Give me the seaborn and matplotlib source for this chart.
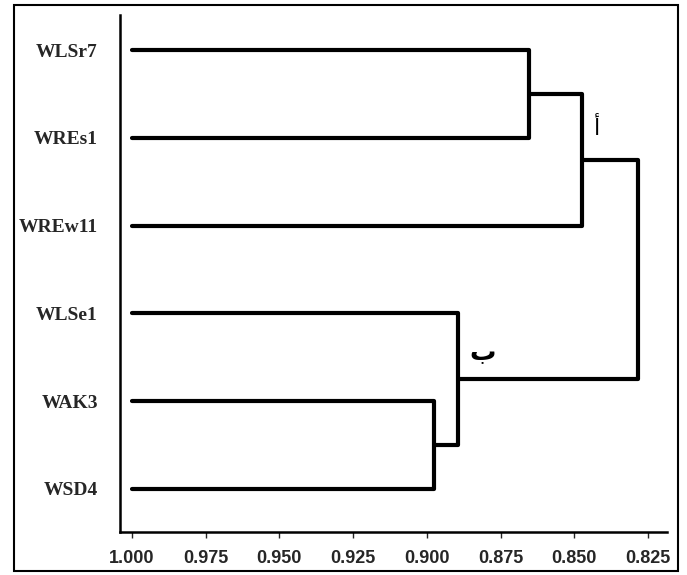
import matplotlib
matplotlib.use("Agg")
import matplotlib.pyplot as plt
import seaborn as sns
import pandas as pd
import numpy as np
from matplotlib.patches import Rectangle

# ---- data ----
leaves = ["WLSr7", "WREs1", "WREw11", "WLSe1", "WAK3", "WSD4"]
leaf_start = 1.0
# merges: (left node, right node, similarity level)
merge_left = ["WLSr7", "c1", "WAK3", "WLSe1", "cA"]
merge_right = ["WREs1", "WREw11", "WSD4", "c3", "cB"]
merge_level = [0.8655, 0.8475, 0.8975, 0.8895, 0.8285]
merge_name = ["c1", "cA", "c3", "cB", "root"]
cluster_labels = ["أ", "ب"]
xticks = [1.000, 0.975, 0.950, 0.925, 0.900, 0.875, 0.850, 0.825]
xtick_labels = ["1.000", "0.975", "0.950", "0.925", "0.900", "0.875", "0.850", "0.825"]

# ---- build dendrogram segments ----
pos = {name: len(leaves) - 1 - i for i, name in enumerate(leaves)}
lvl = {name: leaf_start for name in leaves}
rows = []
seg = 0
for l, r, h, n in zip(merge_left, merge_right, merge_level, merge_name):
    for x, y in [(lvl[l], pos[l]), (h, pos[l]), (h, pos[r]), (lvl[r], pos[r])]:
        rows.append({"seg": seg, "x": x, "y": y})
    seg += 1
    pos[n] = (pos[l] + pos[r]) / 2
    lvl[n] = h
df = pd.DataFrame(rows)

sns.set_theme(style="white")
plt.rcParams["font.family"] = ["Liberation Serif", "DejaVu Sans"]

fig = plt.figure(figsize=(6.87, 5.75), dpi=100)
ax = fig.add_axes([120 / 687, 1 - 532 / 575, (667 - 120) / 687, (532 - 15) / 575])

sns.lineplot(data=df, x="x", y="y", units="seg", estimator=None, sort=False,
             color="black", linewidth=3.0, ax=ax, legend=False)

ax.set_xlim(1.004, 0.8186)
ax.set_ylim(-0.49, 5.40)

ax.set_yticks([pos[n] for n in leaves])
ax.set_yticklabels(leaves, fontsize=14, fontweight="bold", family="Liberation Serif")
ax.set_xticks(xticks)
ax.set_xticklabels(xtick_labels, fontsize=13, fontweight="bold", family="Liberation Sans")
ax.tick_params(axis="y", length=0, pad=16)
ax.tick_params(axis="x", length=4, width=1, pad=9, direction="out", bottom=True)
ax.set_xlabel("")
ax.set_ylabel("")
for s in ["top", "right"]:
    ax.spines[s].set_visible(False)
for s in ["left", "bottom"]:
    ax.spines[s].set_linewidth(1.8)
    ax.spines[s].set_color("black")

# cluster labels
ax.text(lvl["cA"] - 0.005, pos["cA"] + 0.36, cluster_labels[0], fontsize=16,
        family="DejaVu Sans", ha="center", va="center", color="black")
ax.text(lvl["cB"] - 0.0085, pos["cB"] + 0.30, cluster_labels[1], fontsize=19,
        fontweight="bold", family="DejaVu Sans", ha="center", va="center", color="black")

# outer frame
fig.patches.append(Rectangle((14 / 687, 1 - 571 / 575), (678 - 14) / 687, (571 - 5) / 575,
                             transform=fig.transFigure, fill=False, edgecolor="black",
                             linewidth=1.5))

fig.savefig("out.png", dpi=100, facecolor="white")
